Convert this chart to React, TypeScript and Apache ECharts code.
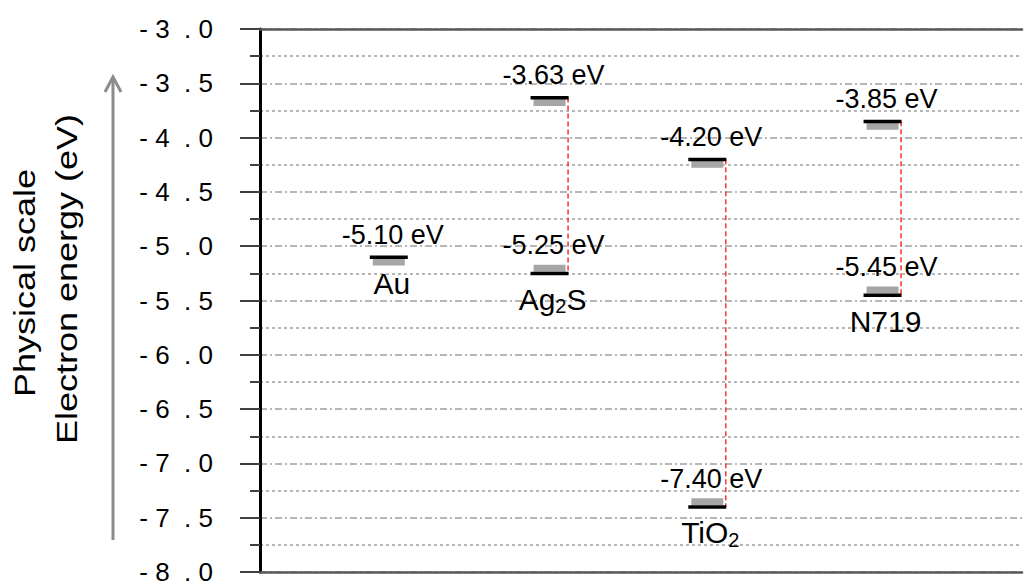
import React, { useEffect, useRef } from 'react';
import * as echarts from 'echarts';

// Energy levels (eV) of each material; Au has a single level (work function)
const materials = ['Au', 'Ag{sub|2}S', 'TiO{sub|2}', 'N719'];
const upperLevels: number[] = [-5.1, -3.63, -4.2, -3.85];
const lowerLevels: (number | null)[] = [null, -5.25, -7.4, -5.45];

// Energy axis
const axisMin = -8;
const axisMax = -3;
const axisStep = 0.5;

const yTitleLines = ['Physical scale', 'Electron energy (eV)'];

// Horizontal slot of each column on a 0–10 scale
const columnSlots = [1.69, 3.8, 5.87, 8.17];

const FONT = '"Liberation Sans", Arial, sans-serif';
const HALF = 19; // half width of a level mark, px

function formatTick(v: number): string {
  const s = Math.abs(v).toFixed(1);
  const [i, f] = s.split('.');
  return (v < 0 ? '- ' : '') + i + '  . ' + f;
}

export default function App() {
  const ref = useRef<HTMLDivElement>(null);

  useEffect(() => {
    if (!ref.current) return;
    const chart = echarts.init(ref.current, undefined, { renderer: 'svg' });

    const levelData: number[][] = [];
    const gapData: number[][] = [];
    const nameData: number[][] = [];
    materials.forEach((_, i) => {
      levelData.push([columnSlots[i], upperLevels[i], 0]);
      const lo = lowerLevels[i];
      if (lo != null) {
        levelData.push([columnSlots[i], lo, 1]);
        gapData.push([columnSlots[i], upperLevels[i], lo]);
      }
      nameData.push([columnSlots[i], lo != null ? lo : upperLevels[i], i]);
    });

    const baseAxis = {
      type: 'value' as const,
      min: 0,
      max: 10,
      axisLine: { show: true, lineStyle: { color: '#595959', width: 2.5 } },
      axisTick: { show: false },
      axisLabel: { show: false },
      splitLine: { show: false },
    };

    chart.setOption({
      animation: false,
      textStyle: { fontFamily: FONT },
      grid: { left: 260, right: 4, top: 29, bottom: 10 },
      xAxis: [
        { ...baseAxis, position: 'bottom' },
        { ...baseAxis, position: 'top' },
      ],
      yAxis: {
        type: 'value',
        min: axisMin,
        max: axisMax,
        interval: axisStep,
        axisLine: { show: true, onZero: false, lineStyle: { color: '#000', width: 3 } },
        axisTick: { show: true, length: 20, lineStyle: { color: '#404040', width: 2 } },
        minorTick: { show: true, splitNumber: 2, length: 10, lineStyle: { color: '#404040', width: 2 } },
        axisLabel: {
          margin: 47,
          color: '#000',
          fontSize: 26,
          fontFamily: FONT,
          padding: [0, 0, 6, 0],
          formatter: (v: number) => formatTick(v),
        },
        splitLine: {
          show: true,
          lineStyle: { color: '#a0a0a0', width: 1.5, type: [7, 3, 2, 3] },
        },
        minorSplitLine: {
          show: true,
          lineStyle: { color: '#a0a0a0', width: 1.5, type: [3, 3] },
        },
      },
      graphic: [
        {
          type: 'line',
          shape: { x1: 113, y1: 540, x2: 113, y2: 77 },
          style: { stroke: '#8c8c8c', lineWidth: 3 },
        },
        {
          type: 'polyline',
          shape: { points: [[105, 92], [113, 77], [121, 92]] },
          style: { stroke: '#8c8c8c', lineWidth: 3, fill: 'none' },
        },
        {
          type: 'text',
          x: 25,
          y: 283,
          rotation: Math.PI / 2,
          scaleX: 1.2,
          style: {
            text: yTitleLines[0],
            font: '30px ' + FONT,
            fill: '#000',
            align: 'center',
            verticalAlign: 'middle',
          },
        },
        {
          type: 'text',
          x: 67,
          y: 279,
          rotation: Math.PI / 2,
          scaleX: 1.2,
          style: {
            text: yTitleLines[1],
            font: '30px ' + FONT,
            fill: '#000',
            align: 'center',
            verticalAlign: 'middle',
          },
        },
      ],
      series: [
        {
          type: 'custom',
          name: 'gap',
          data: gapData,
          z: 3,
          renderItem: (_p: any, api: any) => {
            const top = api.coord([api.value(0), api.value(1)]);
            const bot = api.coord([api.value(0), api.value(2)]);
            const x = top[0] + HALF - 0.5;
            return {
              type: 'line',
              shape: { x1: x, y1: top[1], x2: x, y2: bot[1] },
              style: { stroke: '#ff3030', lineWidth: 1.5, lineDash: [5, 3] },
            };
          },
        },
        {
          type: 'custom',
          name: 'levels',
          data: levelData,
          z: 4,
          renderItem: (_p: any, api: any) => {
            const v = api.value(1);
            const kind = api.value(2);
            const [cx, cy] = api.coord([api.value(0), v]);
            const grayTop = kind === 0 ? cy + 1.5 : cy - 8.5;
            const labelY = kind === 0 ? cy - 22 : cy - 28;
            return {
              type: 'group',
              children: [
                {
                  type: 'rect',
                  shape: { x: cx - HALF + 3, y: grayTop, width: 2 * HALF - 6, height: 7 },
                  style: { fill: '#a6a6a6' },
                },
                {
                  type: 'rect',
                  shape: { x: cx - HALF, y: cy - 1.5, width: 2 * HALF, height: 3.5 },
                  style: { fill: '#000' },
                },
                {
                  type: 'text',
                  x: cx + 4,
                  y: labelY,
                  style: {
                    text: v.toFixed(2) + ' eV',
                    font: '27px ' + FONT,
                    fill: '#000',
                    align: 'center',
                    verticalAlign: 'middle',
                  },
                },
              ],
            };
          },
        },
        {
          type: 'custom',
          name: 'names',
          data: nameData,
          z: 4,
          renderItem: (_p: any, api: any) => {
            const [cx, cy] = api.coord([api.value(0), api.value(1)]);
            const idx = api.value(2);
            return {
              type: 'text',
              x: cx + 3,
              y: cy + 26,
              style: {
                text: materials[idx],
                fontSize: 30,
                fontFamily: FONT,
                fill: '#000',
                align: 'center',
                verticalAlign: 'middle',
                rich: {
                  sub: {
                    fontSize: 20,
                    fontFamily: FONT,
                    fill: '#000',
                    verticalAlign: 'bottom',
                    padding: [14, 0, 0, 0],
                  },
                },
              },
            };
          },
        },
      ],
    });

    return () => chart.dispose();
  }, []);

  return (
    <div
      ref={ref}
      style={{ position: 'fixed', left: 0, top: 0, width: 1026, height: 585, background: '#fff' }}
    />
  );
}
